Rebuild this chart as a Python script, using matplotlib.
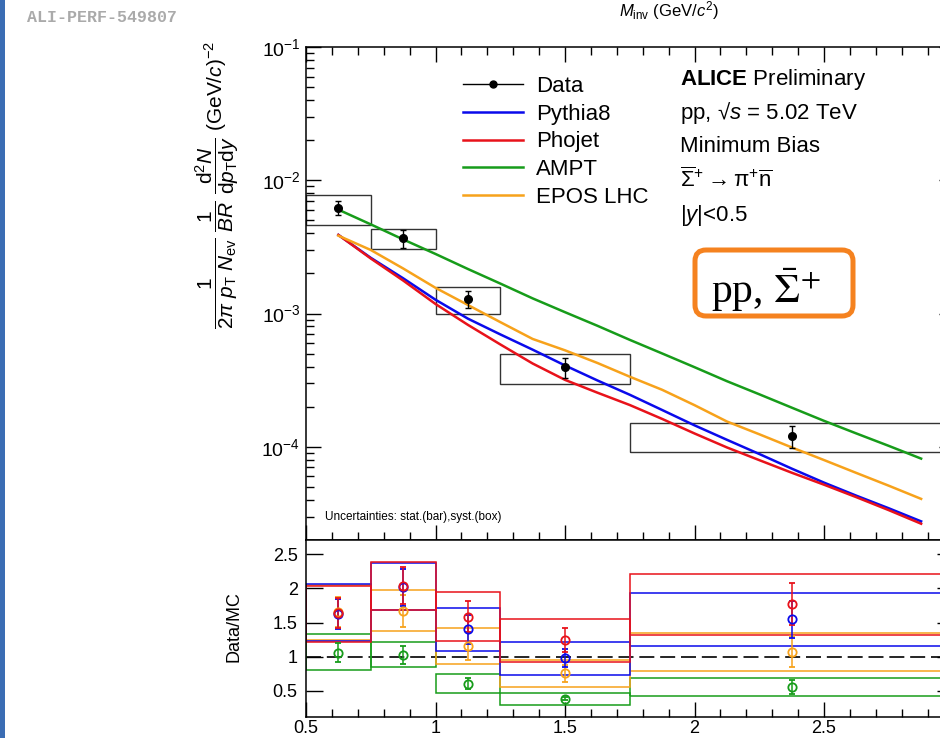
import matplotlib
matplotlib.use('Agg')
import matplotlib.pyplot as plt
from matplotlib.patches import Rectangle, FancyBboxPatch
from matplotlib.lines import Line2D
from matplotlib.transforms import IdentityTransform
from matplotlib.ticker import MultipleLocator, LogLocator, NullFormatter, LogFormatterMathtext, FormatStrFormatter

plt.rcParams['font.family'] = ['Liberation Sans', 'DejaVu Sans']
plt.rcParams['mathtext.fontset'] = 'custom'
plt.rcParams['mathtext.rm'] = 'Liberation Sans'
plt.rcParams['mathtext.it'] = 'Liberation Sans:italic'
plt.rcParams['mathtext.bf'] = 'Liberation Sans:bold'

# ---- data ----
bin_lo = [0.5, 0.75, 1.0, 1.25, 1.75]
bin_hi = [0.75, 1.0, 1.25, 1.75, 3.0]
pt_center = [0.625, 0.875, 1.125, 1.5, 2.375]
yield_val = [6.2e-3, 3.67e-3, 1.29e-3, 3.96e-4, 1.21e-4]
yield_stat = [0.75e-3, 0.55e-3, 0.18e-3, 0.7e-4, 0.23e-4]
yield_syst = [1.6e-3, 0.64e-3, 0.30e-3, 1.0e-4, 0.30e-4]

mc_pt = [0.625, 0.75, 0.875, 1.0, 1.125, 1.25, 1.375, 1.5, 1.625, 1.75,
         1.875, 2.0, 2.125, 2.25, 2.375, 2.5, 2.625, 2.75, 2.875]
pythia8 = [3.89e-3, 2.62e-3, 1.84e-3, 1.27e-3, 9.16e-4, 6.98e-4, 5.36e-4, 4.08e-4, 3.15e-4, 2.46e-4,
           1.89e-4, 1.45e-4, 1.13e-4, 8.84e-5, 6.87e-5, 5.39e-5, 4.30e-5, 3.46e-5, 2.76e-5]
phojet = [3.89e-3, 2.59e-3, 1.77e-3, 1.18e-3, 8.23e-4, 5.87e-4, 4.22e-4, 3.18e-4, 2.55e-4, 2.06e-4,
          1.62e-4, 1.26e-4, 9.9e-5, 7.95e-5, 6.4e-5, 5.2e-5, 4.19e-5, 3.35e-5, 2.65e-5]
ampt = [6.02e-3, 4.67e-3, 3.60e-3, 2.80e-3, 2.16e-3, 1.68e-3, 1.30e-3, 1.024e-3, 8.10e-4, 6.35e-4,
        5.02e-4, 3.96e-4, 3.11e-4, 2.48e-4, 1.97e-4, 1.567e-4, 1.26e-4, 1.017e-4, 8.16e-5]
epos = [3.84e-3, 3.00e-3, 2.18e-3, 1.56e-3, 1.16e-3, 8.63e-4, 6.45e-4, 5.30e-4, 4.26e-4, 3.36e-4,
        2.68e-4, 2.055e-4, 1.55e-4, 1.243e-4, 9.91e-5, 7.96e-5, 6.37e-5, 5.11e-5, 4.07e-5]

# data / MC ratios
r_pythia8 = [1.62, 2.02, 1.40, 0.976, 1.548]
r_pythia8_stat = [0.22, 0.27, 0.21, 0.13, 0.27]
r_pythia8_lo = [1.235, 1.68, 1.08, 0.727, 1.16]
r_pythia8_hi = [2.07, 2.38, 1.71, 1.22, 1.94]

r_phojet = [1.645, 2.04, 1.587, 1.24, 1.768]
r_phojet_stat = [0.22, 0.275, 0.23, 0.175, 0.31]
r_phojet_lo = [1.22, 1.685, 1.23, 0.922, 1.318]
r_phojet_hi = [2.03, 2.39, 1.95, 1.553, 2.21]

r_ampt = [1.06, 1.03, 0.604, 0.384, 0.556]
r_ampt_stat = [0.14, 0.13, 0.077, 0.02, 0.10]
r_ampt_lo = [0.80, 0.853, 0.463, 0.287, 0.424]
r_ampt_hi = [1.33, 1.21, 0.74, 0.472, 0.692]

r_epos = [1.65, 1.67, 1.157, 0.756, 1.073]
r_epos_stat = [0.22, 0.23, 0.20, 0.12, 0.23]
r_epos_lo = [1.24, 1.377, 0.89, 0.56, 0.795]
r_epos_hi = [2.05, 1.97, 1.425, 0.952, 1.347]

x_tick_vals = [0.5, 1.0, 1.5, 2.0, 2.5, 3.0]
x_tick_labels = ['0.5', '1', '1.5', '2', '2.5', '']

c_blue = '#0a0aeb'
c_red = '#e8121a'
c_green = '#179c1a'
c_orange = '#f7a21b'

W, H = 940, 738
def fx(px):
    return px / W
def fy(py):
    return 1 - py / H

fig = plt.figure(figsize=(W / 100, H / 100), dpi=100)

ax1 = fig.add_axes([fx(306), fy(540), fx(953.5) - fx(306), fy(47) - fy(540)])
ax2 = fig.add_axes([fx(306), fy(717), fx(953.5) - fx(306), fy(540) - fy(717)])

# ---- upper panel ----
for lo, hi, v, s in zip(bin_lo, bin_hi, yield_val, yield_syst):
    ax1.add_patch(Rectangle((lo, v - s), hi - lo, 2 * s, fill=False, ec='#333333', lw=1.0))
ax1.errorbar(pt_center, yield_val, yerr=yield_stat, fmt='o', color='black', ms=5.5,
             capsize=2.5, elinewidth=1.0, capthick=1.0, zorder=5)
ax1.plot(mc_pt, pythia8, color=c_blue, lw=1.8)
ax1.plot(mc_pt, phojet, color=c_red, lw=1.8)
ax1.plot(mc_pt, ampt, color=c_green, lw=1.8)
ax1.plot(mc_pt, epos, color=c_orange, lw=1.8)

ax1.set_yscale('log')
ax1.set_xlim(0.5, 3.0)
ax1.set_ylim(2.0e-5, 0.1)
ax1.xaxis.set_major_locator(MultipleLocator(0.5))
ax1.xaxis.set_minor_locator(MultipleLocator(0.1))
ax1.yaxis.set_major_locator(LogLocator(base=10, numticks=10))
ax1.yaxis.set_minor_locator(LogLocator(base=10, subs=range(2, 10), numticks=10))
ax1.yaxis.set_major_formatter(LogFormatterMathtext())
ax1.yaxis.set_minor_formatter(NullFormatter())
ax1.tick_params(which='both', direction='in', top=True, right=True, width=1.0,
                labelbottom=False, labelsize=14, pad=4)
ax1.tick_params(which='major', length=11)
ax1.tick_params(which='minor', length=5.5)

handles = [Line2D([], [], color='black', marker='o', ms=5, lw=1.0),
           Line2D([], [], color=c_blue, lw=1.8),
           Line2D([], [], color=c_red, lw=1.8),
           Line2D([], [], color=c_green, lw=1.8),
           Line2D([], [], color=c_orange, lw=1.8)]
labels = ['Data', 'Pythia8', 'Phojet', 'AMPT', 'EPOS LHC']
fig.legend(handles, labels, loc='upper left', bbox_to_anchor=(fx(463), fy(76)),
           frameon=False, fontsize=16, handlelength=2.7, handletextpad=0.6,
           labelspacing=0.30, borderpad=0, borderaxespad=0)

fig.text(fx(680), fy(85), r'$\mathbf{ALICE}$ Preliminary', fontsize=16, va='baseline')
fig.text(fx(680), fy(119), r'pp, √$s$ = 5.02 TeV', fontsize=16, va='baseline')
fig.text(fx(680), fy(152.5), 'Minimum Bias', fontsize=16, va='baseline')
fig.text(fx(680), fy(187), r'$\overline{\Sigma}^{+}\rightarrow$π$^{+}\overline{\mathrm{n}}$',
         fontsize=16, va='baseline')
fig.text(fx(680), fy(221), r'|$y$|<0.5', fontsize=16, va='baseline')
fig.text(fx(325), fy(520), 'Uncertainties: stat.(bar),syst.(box)', fontsize=8.5, va='baseline')

box = FancyBboxPatch((695, H - 316), 158, 66, boxstyle='round,pad=0,rounding_size=11',
                     transform=IdentityTransform(), fc='white', ec='#f5821f', lw=3.6, zorder=3)
fig.add_artist(box)
fig.text(fx(711), fy(303), r'pp, $\bar{\Sigma}^{+}$', family='Liberation Serif',
         math_fontfamily='stix', fontsize=30, va='baseline', zorder=4)

fig.text(fx(217), fy(185),
         r'$\dfrac{1}{2\pi\ p_{\mathrm{T}}\ N_{\mathrm{ev}}}\ \dfrac{1}{BR}\ \dfrac{\mathrm{d}^{2}N}{\mathrm{d}p_{\mathrm{T}}\mathrm{d}y}$ (GeV/$c$)$^{-2}$',
         rotation=90, ha='center', va='center', fontsize=15)

# ---- lower panel ----
models = [
    (c_green, r_ampt, r_ampt_stat, r_ampt_lo, r_ampt_hi),
    (c_orange, r_epos, r_epos_stat, r_epos_lo, r_epos_hi),
    (c_blue, r_pythia8, r_pythia8_stat, r_pythia8_lo, r_pythia8_hi),
    (c_red, r_phojet, r_phojet_stat, r_phojet_lo, r_phojet_hi),
]
ax2.axhline(1.0, color='black', lw=1.2, ls=(0, (9, 3.5)), zorder=1)
for col, r, rs, rlo, rhi in models:
    for lo, hi, a, b in zip(bin_lo, bin_hi, rlo, rhi):
        ax2.add_patch(Rectangle((lo, a), hi - lo, b - a, fill=False, ec=col, lw=1.1, zorder=2))
for col, r, rs, rlo, rhi in models:
    ax2.errorbar(pt_center, r, yerr=rs, fmt='o', mfc='none', mec=col, color=col, ms=6,
                 mew=1.3, capsize=2, elinewidth=1.1, capthick=1.1, zorder=4)

ax2.set_xlim(0.5, 3.0)
ax2.set_ylim(0.116, 2.71)
ax2.set_xticks(x_tick_vals)
ax2.set_xticklabels(x_tick_labels)
ax2.xaxis.set_minor_locator(MultipleLocator(0.1))
ax2.yaxis.set_major_locator(MultipleLocator(0.5))
ax2.yaxis.set_major_formatter(FormatStrFormatter('%g'))
ax2.tick_params(which='both', direction='in', right=True, top=False, width=1.0, labelsize=13)
ax2.tick_params(axis='y', which='major', length=12, pad=6)
ax2.tick_params(axis='x', which='major', length=11, pad=2)
ax2.tick_params(which='minor', length=5.5)

fig.text(fx(234), fy(627), 'Data/MC', rotation=90, ha='center', va='center', fontsize=13)

for ax in (ax1, ax2):
    for sp in ax.spines.values():
        sp.set_linewidth(1.1)

# ---- page decorations ----
fig.add_artist(Rectangle((0, 0), fx(5), 1, transform=fig.transFigure, color='#3b6db4', lw=0))
fig.text(fx(27), fy(22), 'ALI-PERF-549807', family=['Liberation Mono', 'DejaVu Sans Mono'],
         fontweight='bold', color='#aaaaaa', fontsize=12, va='baseline')
fig.text(fx(669), fy(16), r'$M_{\mathrm{inv}}$ (GeV/$c^{2}$)', ha='center', va='baseline', fontsize=12)

fig.savefig('out.png', dpi=100)
